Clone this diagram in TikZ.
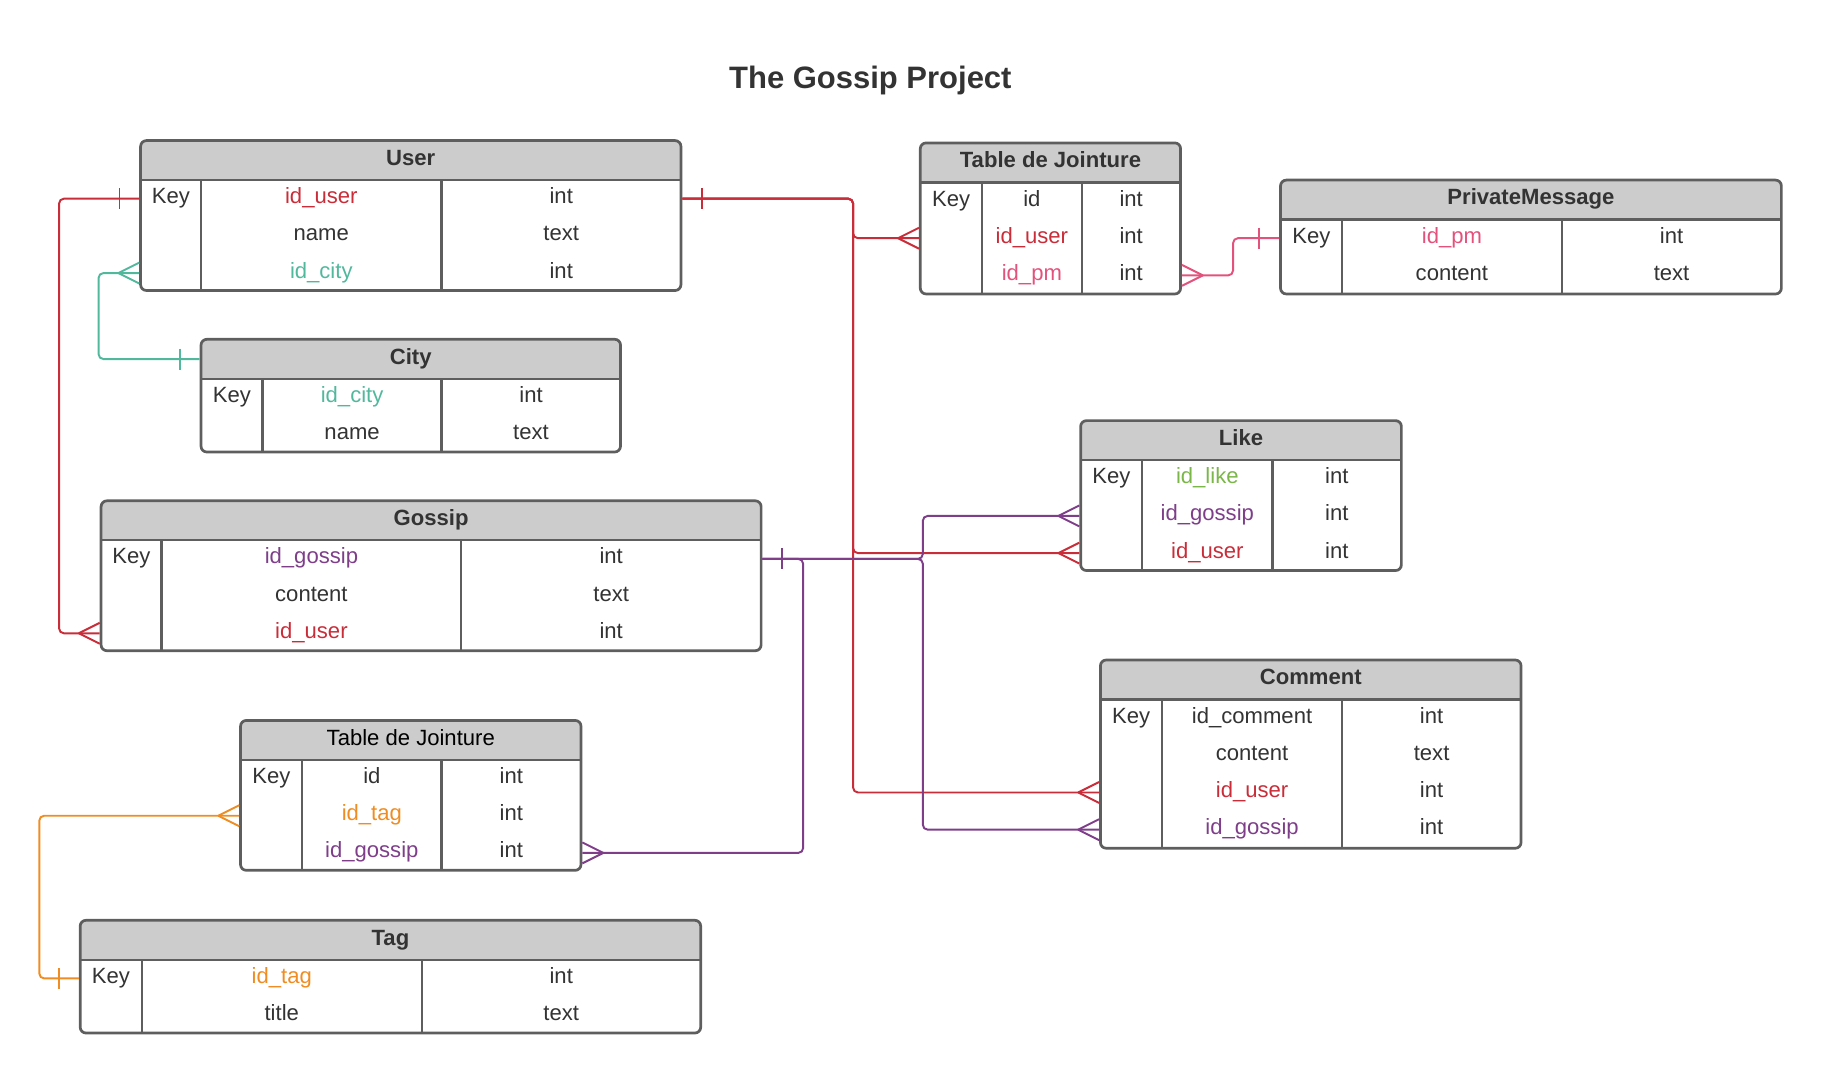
\documentclass[tikz,border=0pt]{standalone}
\usepackage{fontspec}
\setmainfont{Liberation Sans}
\usetikzlibrary{fit}
\definecolor{ink}{HTML}{333333}
\definecolor{frame}{HTML}{5E5E5E}
\definecolor{headgray}{HTML}{CCCCCC}
\definecolor{cred}{HTML}{C92D39}
\definecolor{cteal}{HTML}{52B89C}
\definecolor{cpink}{HTML}{E3527C}
\definecolor{cpurple}{HTML}{7E3E8A}
\definecolor{cgreen}{HTML}{7AB648}
\definecolor{corange}{HTML}{EF8D22}
\begin{document}
\begin{tikzpicture}[
x=0.6pt, y=-0.6pt,
tbl/.style={draw=frame, line width=1.4pt, rounded corners=3pt, inner sep=0pt},
tline/.style={draw=frame, line width=1.2pt},
cell/.style={inner sep=0pt, text height=8pt, text depth=2.8pt, text=ink,
  font=\fontsize{11.4}{13}\selectfont},
head/.style={cell, font=\fontsize{11.4}{13}\selectfont\bfseries},
rel/.style={line width=1pt, rounded corners=2.5pt},
pics/many/.style={code={\draw[line width=1pt] (-18,0) -- (0,-9) (-18,0) -- (0,9);}},
pics/one/.style={code={\draw[line width=1pt] (-17,-9) -- (-17,9);}}
]
\useasboundingbox (0,0) rectangle (1568,924);

\node[font=\fontsize{16}{19}\selectfont\bfseries, text=ink, anchor=base] (title) at (749,76.5) {The Gossip Project};

% frames
\foreach \n/\xa/\ya/\xb/\yb/\da/\db in {
  user/121/121/586/250/173/380,
  city/173/292/534/389/226/380,
  gossip/87/431/655/560/139/397,
  tjtag/207/620/500/749/260/380,
  tag/69/792/603/889/122/363,
  tjpm/792/123/1016/253/845/931,
  pm/1102/155/1533/253/1155/1344,
  like/930/362/1206/491/983/1095,
  comment/947/568/1309/730/1000/1155}{
  \begin{scope}
    \clip[rounded corners=3pt] (\xa,\ya) rectangle (\xb,\yb);
    \fill[headgray] (\xa,\ya) rectangle (\xb,\ya+34);
  \end{scope}
  \node[tbl, fit={(\xa,\ya) (\xb,\yb)}] (\n) {};
  \draw[tline] (\xa,\ya+34) -- (\xb,\ya+34)
    (\da,\ya+34) -- (\da,\yb) (\db,\ya+34) -- (\db,\yb);
}

% User
\node[head] (user-h) at (353.5,138) {User};
\node[cell] (user-k) at (147,171) {Key};
\foreach \f/\t/\c [count=\i] in {id\_user/int/cred, name/text/ink, id\_city/int/cteal}{
  \node[cell, text=\c] (user-f\i) at (276.5,139+32*\i) {\f};
  \node[cell] (user-t\i) at (483,139+32*\i) {\t};
}

% City
\node[head] (city-h) at (353.5,309) {City};
\node[cell] (city-k) at (199.5,342) {Key};
\foreach \f/\t/\c [count=\i] in {id\_city/int/cteal, name/text/ink}{
  \node[cell, text=\c] (city-f\i) at (303,310+32*\i) {\f};
  \node[cell] (city-t\i) at (457,310+32*\i) {\t};
}

% Gossip
\node[head] (gossip-h) at (371,448) {Gossip};
\node[cell] (gossip-k) at (113,481) {Key};
\foreach \f/\t/\c [count=\i] in {id\_gossip/int/cpurple, content/text/ink, id\_user/int/cred}{
  \node[cell, text=\c] (gossip-f\i) at (268,449+32*\i) {\f};
  \node[cell] (gossip-t\i) at (526,449+32*\i) {\t};
}

% Table de Jointure (tags)
\node[cell, text=black] (tjtag-h) at (353.5,637) {Table de Jointure};
\node[cell] (tjtag-k) at (233.5,670) {Key};
\foreach \f/\t/\c [count=\i] in {id/int/ink, id\_tag/int/corange, id\_gossip/int/cpurple}{
  \node[cell, text=\c] (tjtag-f\i) at (320,638+32*\i) {\f};
  \node[cell] (tjtag-t\i) at (440,638+32*\i) {\t};
}

% Tag
\node[head] (tag-h) at (336,809) {Tag};
\node[cell] (tag-k) at (95.5,842) {Key};
\foreach \f/\t/\c [count=\i] in {id\_tag/int/corange, title/text/ink}{
  \node[cell, text=\c] (tag-f\i) at (242.5,810+32*\i) {\f};
  \node[cell] (tag-t\i) at (483,810+32*\i) {\t};
}

% Table de Jointure (private messages)
\node[head] (tjpm-h) at (904,140) {Table de Jointure};
\node[cell] (tjpm-k) at (818.5,173) {Key};
\foreach \f/\t/\c [count=\i] in {id/int/ink, id\_user/int/cred, id\_pm/int/cpink}{
  \node[cell, text=\c] (tjpm-f\i) at (888,141+32*\i) {\f};
  \node[cell] (tjpm-t\i) at (973.5,141+32*\i) {\t};
}

% PrivateMessage
\node[head] (pm-h) at (1317.5,172) {PrivateMessage};
\node[cell] (pm-k) at (1128.5,205) {Key};
\foreach \f/\t/\c [count=\i] in {id\_pm/int/cpink, content/text/ink}{
  \node[cell, text=\c] (pm-f\i) at (1249.5,173+32*\i) {\f};
  \node[cell] (pm-t\i) at (1438.5,173+32*\i) {\t};
}

% Like
\node[head] (like-h) at (1068,379) {Like};
\node[cell] (like-k) at (956.5,412) {Key};
\foreach \f/\t/\c [count=\i] in {id\_like/int/cgreen, id\_gossip/int/cpurple, id\_user/int/cred}{
  \node[cell, text=\c] (like-f\i) at (1039,380+32*\i) {\f};
  \node[cell] (like-t\i) at (1150.5,380+32*\i) {\t};
}

% Comment
\node[head] (comment-h) at (1128,585) {Comment};
\node[cell] (comment-k) at (973.5,618) {Key};
\foreach \f/\t/\c [count=\i] in {id\_comment/int/ink, content/text/ink, id\_user/int/cred, id\_gossip/int/cpurple}{
  \node[cell, text=\c] (comment-f\i) at (1077.5,586+32*\i) {\f};
  \node[cell] (comment-t\i) at (1232,586+32*\i) {\t};
}

% user -> gossip
\draw[rel, cred] (user.west |- user-f1) -- ++(-69,0) |- (gossip.west |- gossip-f3);
\pic[cred] at (user.west |- user-f1) {one};
\pic[cred] at (gossip.west |- gossip-f3) {many};

% city -> user
\draw[rel, cteal] (city.west |- city-h) -- ++(-87,0) |- (user.west |- user-f3);
\pic[cteal] at (city.west |- city-h) {one};
\pic[cteal] at (user.west |- user-f3) {many};

% user -> tjpm, like, comment
\draw[rel, cred] (user.east |- user-f1) -- ++(147,0) |- (tjpm.west |- tjpm-f2);
\draw[rel, cred] (user.east |- user-f1) -- ++(147,0) |- (like.west |- like-f3);
\draw[rel, cred] (user.east |- user-f1) -- ++(147,0) |- (comment.west |- comment-f3);
\pic[cred, xscale=-1] at (user.east |- user-f1) {one};
\pic[cred] at (tjpm.west |- tjpm-f2) {many};
\pic[cred] at (like.west |- like-f3) {many};
\pic[cred] at (comment.west |- comment-f3) {many};

% gossip -> tjtag, like, comment
\draw[rel, cpurple] (gossip.east |- gossip-f1) -- ++(35,0) |- (tjtag.east |- tjtag-f3);
\draw[rel, cpurple] (gossip.east |- gossip-f1) -- ++(138,0) |- (like.west |- like-f2);
\draw[rel, cpurple] (gossip.east |- gossip-f1) -- ++(138,0) |- (comment.west |- comment-f4);
\pic[cpurple, xscale=-1] at (gossip.east |- gossip-f1) {one};
\pic[cpurple, xscale=-1] at (tjtag.east |- tjtag-f3) {many};
\pic[cpurple] at (like.west |- like-f2) {many};
\pic[cpurple] at (comment.west |- comment-f4) {many};

% tjpm -> pm
\draw[rel, cpink] (tjpm.east |- tjpm-f3) -- ++(44,0) |- (pm.west |- pm-f1);
\pic[cpink, xscale=-1] at (tjpm.east |- tjpm-f3) {many};
\pic[cpink] at (pm.west |- pm-f1) {one};

% tag -> tjtag
\draw[rel, corange] (tag.west |- tag-f1) -- ++(-34,0) |- (tjtag.west |- tjtag-f2);
\pic[corange] at (tag.west |- tag-f1) {one};
\pic[corange] at (tjtag.west |- tjtag-f2) {many};

\end{tikzpicture}
\end{document}
